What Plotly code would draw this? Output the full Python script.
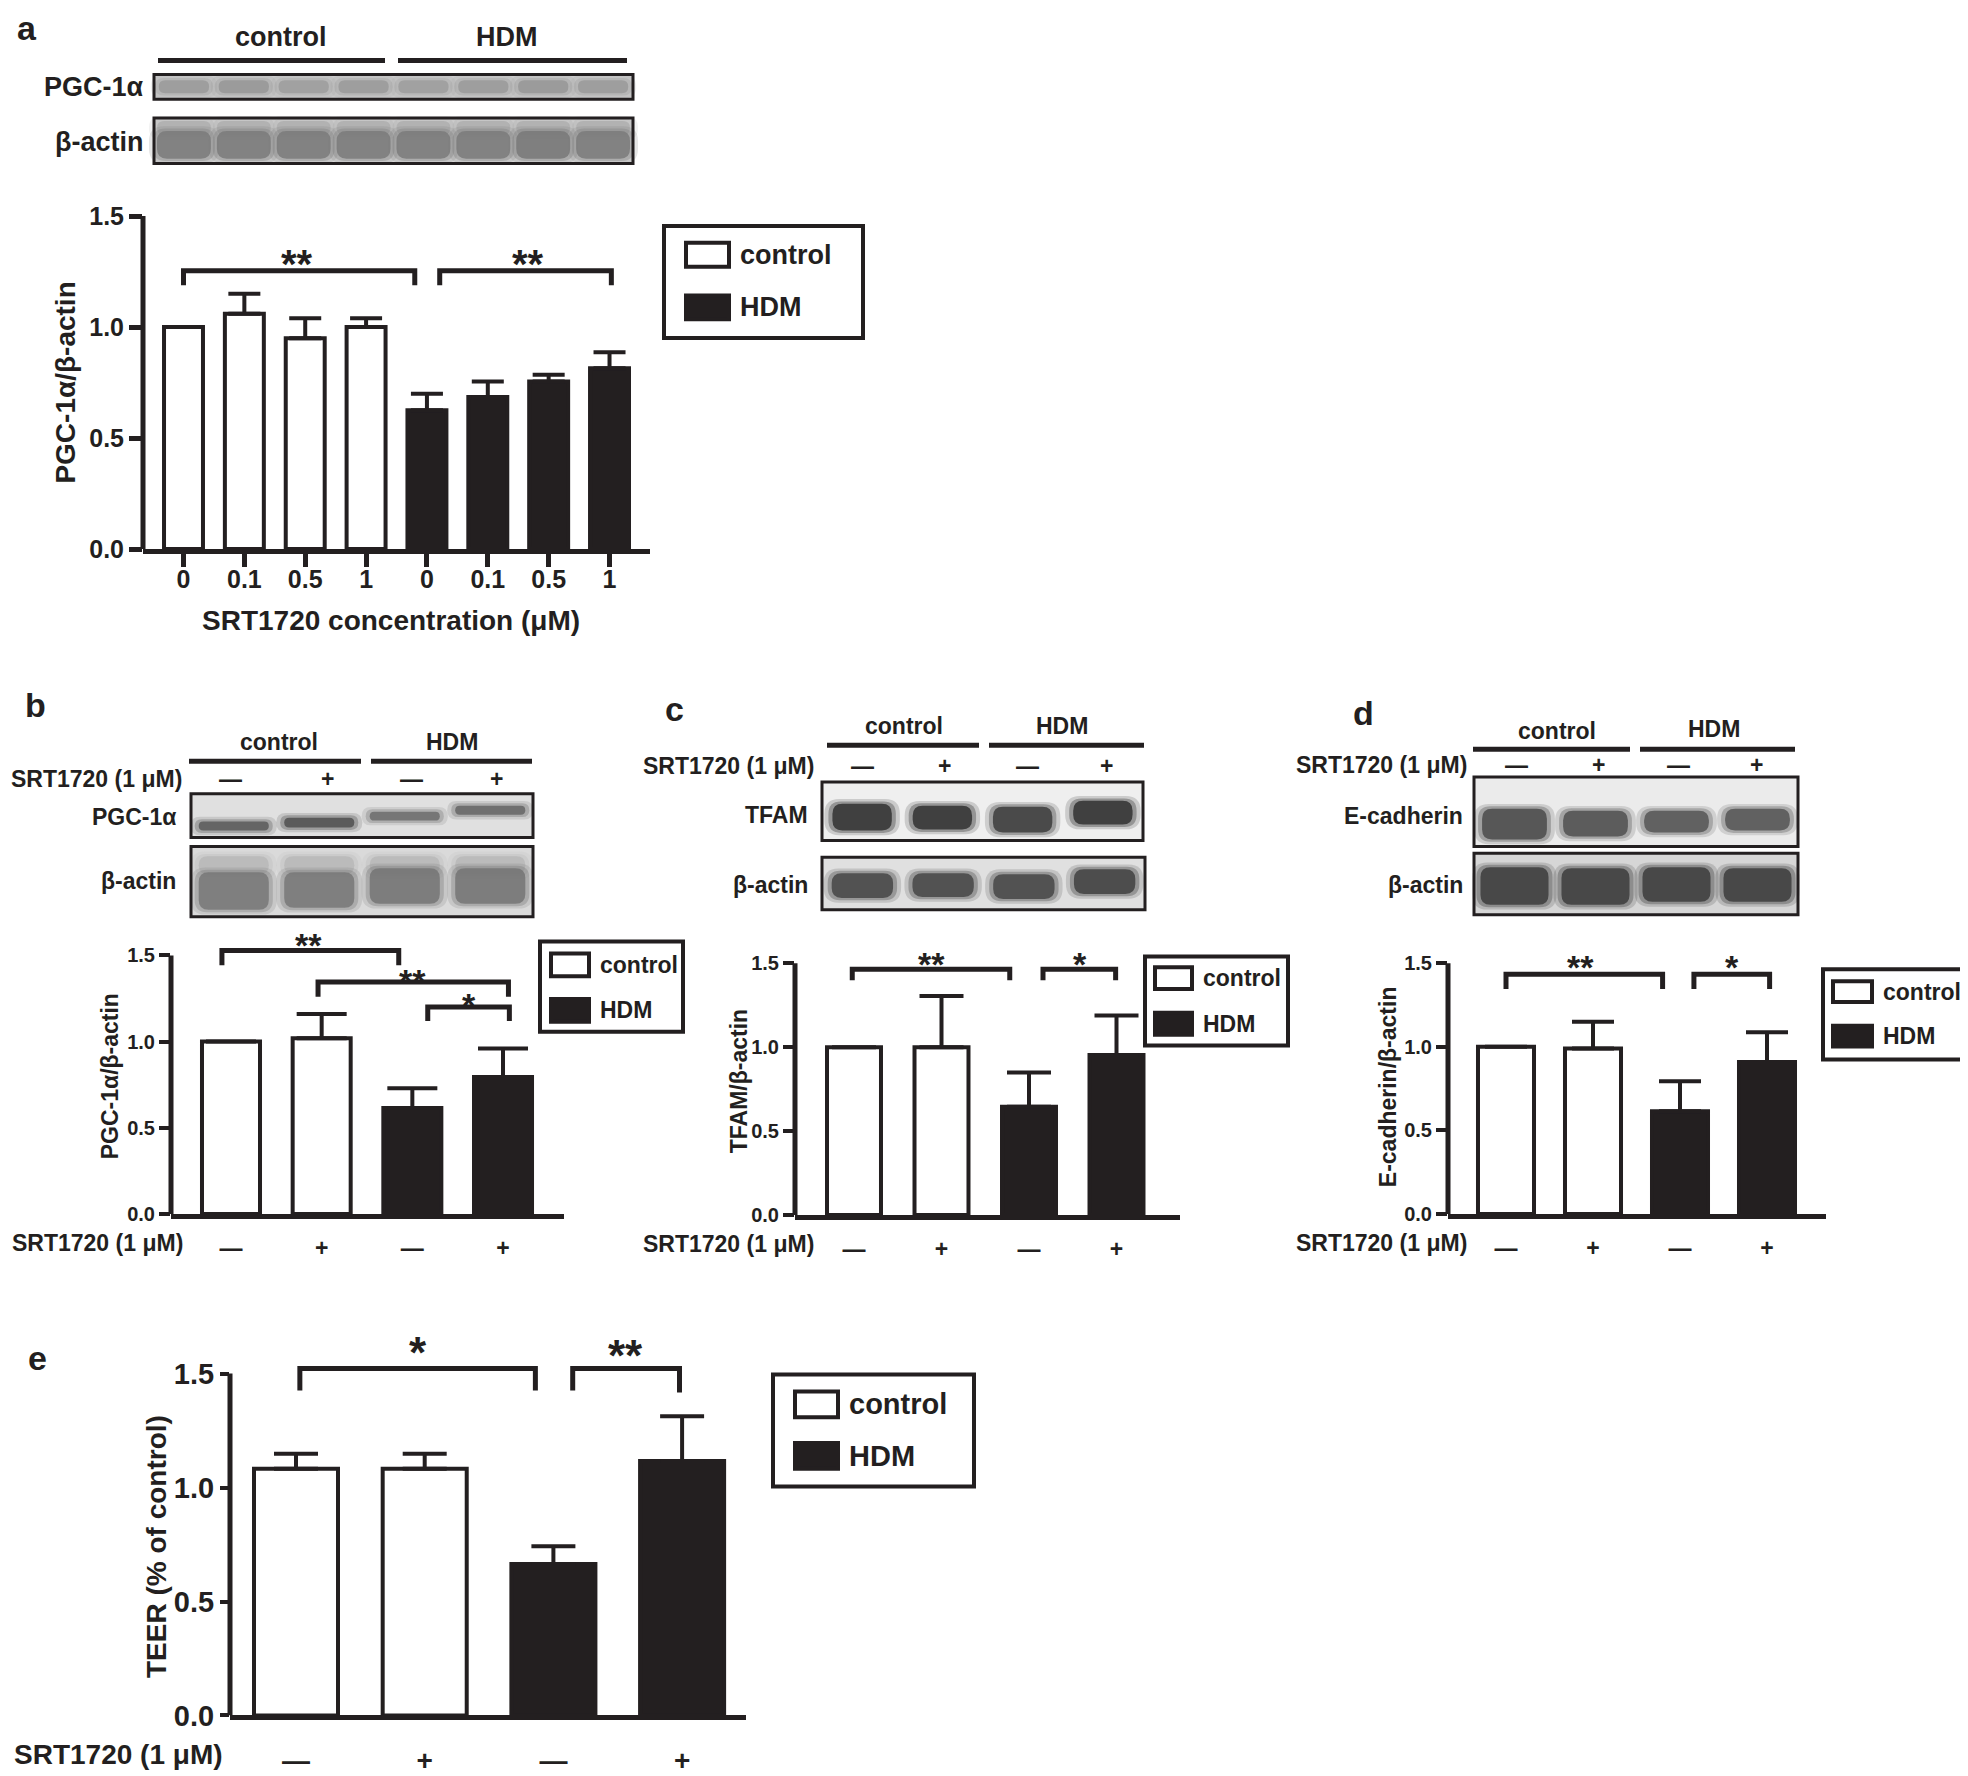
import plotly.graph_objects as go

W, H = 1968, 1776
INK = '#231f20'
FONT = 'Arial, "Liberation Sans", Helvetica, sans-serif'

# ------------------------------------------------------------------ data
A_DOSES = ['0', '0.1', '0.5', '1']
A_CONTROL = [1.0, 1.06, 0.95, 1.0]
A_CONTROL_ERR = [None, 0.09, 0.09, 0.04]
A_HDM = [0.625, 0.685, 0.755, 0.815]
A_HDM_ERR = [0.075, 0.07, 0.03, 0.072]

SRT_SIGNS = ['—', '+']  # SRT1720 (1 µM) absent / present

B_CONTROL = [1.0, 1.02]
B_CONTROL_ERR = [None, 0.14]
B_HDM = [0.615, 0.795]
B_HDM_ERR = [0.115, 0.165]

C_CONTROL = [1.0, 1.0]
C_CONTROL_ERR = [None, 0.305]
C_HDM = [0.645, 0.954]
C_HDM_ERR = [0.205, 0.236]

D_CONTROL = [1.0, 0.99]
D_CONTROL_ERR = [None, 0.16]
D_HDM = [0.615, 0.91]
D_HDM_ERR = [0.18, 0.178]

E_CONTROL = [1.083, 1.083]
E_CONTROL_ERR = [0.065, 0.065]
E_HDM = [0.665, 1.117]
E_HDM_ERR = [0.078, 0.196]

Y_TICKS = [0.0, 0.5, 1.0, 1.5]
Y_TICK_TEXT = ['0.0', '0.5', '1.0', '1.5']

# significance brackets:
# (from bar, to bar, top, left leg end, right leg end, label, label x, label y)
A_BRACKETS = [(0.0, 3.8, 1.254, 1.188, 1.188, '**', 1.87, 1.32),
              (4.21, 7.03, 1.254, 1.188, 1.188, '**', 5.66, 1.32)]
B_BRACKETS = [(-0.1, 1.85, 1.529, 1.443, 1.443, '**', 0.86, 1.60),
              (0.96, 3.06, 1.345, 1.26, 1.26, '**', 2.0, 1.393),
              (2.17, 3.07, 1.20, 1.12, 1.12, '*', 2.63, 1.249)]
C_BRACKETS = [(-0.02, 1.78, 1.465, 1.40, 1.40, '**', 0.89, 1.535),
              (2.16, 2.99, 1.465, 1.40, 1.40, '*', 2.58, 1.535)]
D_BRACKETS = [(0.0, 1.8, 1.434, 1.346, 1.346, '**', 0.86, 1.52),
              (2.16, 3.03, 1.434, 1.346, 1.346, '*', 2.6, 1.52)]
E_BRACKETS = [(0.03, 1.86, 1.522, 1.426, 1.426, '*', 0.95, 1.63),
              (2.15, 2.98, 1.522, 1.426, 1.417, '**', 2.56, 1.62)]

# relative band densities of the western blots (lanes left to right)
A_PGC_DENSITY = [0.55, 0.6, 0.5, 0.55, 0.5, 0.55, 0.6, 0.55]
A_ACTIN_DENSITY = [0.85, 0.85, 0.85, 0.85, 0.85, 0.85, 0.9, 0.85]
B_PGC_DENSITY = [0.75, 0.85, 0.6, 0.65]
B_ACTIN_DENSITY = [0.8, 0.8, 0.85, 0.85]
C_TFAM_DENSITY = [0.9, 0.9, 0.8, 0.9]
C_ACTIN_DENSITY = [0.85, 0.85, 0.85, 0.9]
D_ECAD_DENSITY = [0.85, 0.8, 0.75, 0.75]
D_ACTIN_DENSITY = [0.85, 0.85, 0.85, 0.85]

# ------------------------------------------------------------------ helpers
def fx(x):
    return x / W


def fy(y):
    return 1 - y / H


shapes = []
annotations = []


def text(x, y, s, size, xanchor='center', yanchor='middle', angle=0):
    annotations.append(dict(x=fx(x), y=fy(y), xref='paper', yref='paper', text=s,
                            showarrow=False, xanchor=xanchor, yanchor=yanchor,
                            textangle=angle,
                            font=dict(size=size, family=FONT, color=INK, weight='bold')))


def pline(x0, y0, x1, y1, width):
    shapes.append(dict(type='line', xref='paper', yref='paper', x0=fx(x0), y0=fy(y0),
                       x1=fx(x1), y1=fy(y1), line=dict(color=INK, width=width)))


def prect(x0, y0, x1, y1, fill, lw, lc=INK):
    shapes.append(dict(type='rect', xref='paper', yref='paper', x0=fx(x0), y0=fy(y0),
                       x1=fx(x1), y1=fy(y1), fillcolor=fill,
                       line=dict(color=lc, width=lw)))


def rr_path(x0, y0, x1, y1, r):
    def P(x, y):
        return f"{fx(x):.6f},{fy(y):.6f}"
    return (f"M {P(x0 + r, y0)} L {P(x1 - r, y0)} Q {P(x1, y0)} {P(x1, y0 + r)} "
            f"L {P(x1, y1 - r)} Q {P(x1, y1)} {P(x1 - r, y1)} L {P(x0 + r, y1)} "
            f"Q {P(x0, y1)} {P(x0, y1 - r)} L {P(x0, y0 + r)} Q {P(x0, y0)} {P(x0 + r, y0)} Z")


def band(cx, y0, y1, w, color, dens):
    h = y1 - y0
    for grow, f in ((8, 0.22), (4, 0.4), (0, 1.0)):
        r = min(h / 2, 10) + grow * 0.6
        shapes.append(dict(type='path', xref='paper', yref='paper',
                           path=rr_path(cx - w / 2 - grow, y0 - grow * 0.6,
                                        cx + w / 2 + grow, y1 + grow * 0.6, r),
                           fillcolor=color, opacity=dens * f, line=dict(width=0)))


def blot(box, bg, color, densities, bands_y, wfrac, halo=None):
    x0, y0, x1, y1 = box
    prect(x0, y0, x1, y1, bg, 0)
    n = len(densities)
    lane = (x1 - x0) / n
    for i, d in enumerate(densities):
        cx = x0 + lane * (i + 0.5)
        by0, by1 = bands_y[i]
        if halo:
            hy0, hy1, hc = halo
            band(cx, hy0, hy1, lane * wfrac, hc, 0.7)
        band(cx, by0, by1, lane * wfrac, color, d)
    prect(x0, y0, x1, y1, 'rgba(0,0,0,0)', 3)


def legend(box, sq, gap, size):
    x0, y0, x1, y1 = box
    prect(x0, y0, x1, y1, 'rgba(0,0,0,0)', 4)
    sx0, sy0, sx1, sy1 = sq
    prect(sx0, sy0, sx1, sy1, 'white', 4)
    prect(sx0, sy0 + gap, sx1, sy1 + gap, INK, 4)
    text(sx1 + 9, (sy0 + sy1) / 2, 'control', size, xanchor='left')
    text(sx1 + 9, (sy0 + sy1) / 2 + gap, 'HDM', size, xanchor='left')


# ------------------------------------------------------------------ figure
fig = go.Figure()

YTOP = 1.7
PANELS = [
    dict(n='', left=135, right=642, base=546, unit=224, c0=175.5, s=60.86, bw=0.64, cap=16,
         yf=25, xf=25, tl=13, tw=5, xtl=13, xticks=True, starf=40, xstand=-9),
    dict(n='2', left=163, right=556, base=1217, unit=174, c0=223, s=90.67, bw=0.64, cap=25,
         yf=20, xf=23, tl=11, tw=4, xtl=9, xticks=False, starf=34, xstand=0),
    dict(n='3', left=787, right=1172, base=1218, unit=169.3, c0=846, s=87.5, bw=0.617, cap=22,
         yf=20, xf=23, tl=11, tw=4, xtl=9, xticks=False, starf=34, xstand=0),
    dict(n='4', left=1440, right=1818, base=1217, unit=168.7, c0=1498, s=87, bw=0.644, cap=21,
         yf=20, xf=23, tl=11, tw=4, xtl=9, xticks=False, starf=34, xstand=0),
    dict(n='5', left=222, right=738, base=1723, unit=230, c0=288, s=128.7, bw=0.653, cap=22,
         yf=29, xf=28, tl=9, tw=4, xtl=16, xticks=False, starf=44, xstand=0),
]

DATA = [
    (A_CONTROL, A_CONTROL_ERR, A_HDM, A_HDM_ERR, A_DOSES + A_DOSES, A_BRACKETS),
    (B_CONTROL, B_CONTROL_ERR, B_HDM, B_HDM_ERR, SRT_SIGNS + SRT_SIGNS, B_BRACKETS),
    (C_CONTROL, C_CONTROL_ERR, C_HDM, C_HDM_ERR, SRT_SIGNS + SRT_SIGNS, C_BRACKETS),
    (D_CONTROL, D_CONTROL_ERR, D_HDM, D_HDM_ERR, SRT_SIGNS + SRT_SIGNS, D_BRACKETS),
    (E_CONTROL, E_CONTROL_ERR, E_HDM, E_HDM_ERR, SRT_SIGNS + SRT_SIGNS, E_BRACKETS),
]

layout_axes = {}
for p, (ctl, ctl_e, hdm, hdm_e, xlabels, brackets) in zip(PANELS, DATA):
    xa, ya = 'x' + p['n'], 'y' + p['n']
    nctl = len(ctl)
    xs_c = list(range(nctl))
    xs_h = list(range(nctl, nctl + len(hdm)))
    for xs, vals, errs, fill in ((xs_c, ctl, ctl_e, 'white'), (xs_h, hdm, hdm_e, INK)):
        fig.add_trace(go.Bar(
            x=xs, y=vals, width=p['bw'], xaxis=xa, yaxis=ya, showlegend=False,
            marker=dict(color=fill, line=dict(color=INK, width=4)),
            error_y=dict(type='data', symmetric=False, array=errs,
                         arrayminus=[0] * len(errs), color=INK, thickness=4,
                         width=p['cap']),
        ))
    top_px = p['base'] - YTOP * p['unit']
    xr = [(p['left'] - p['c0']) / p['s'], (p['right'] - p['c0']) / p['s']]
    key = p['n']
    layout_axes['xaxis' + key] = dict(
        domain=[fx(p['left']), fx(p['right'])], range=xr, anchor=ya,
        showline=True, linewidth=5, linecolor=INK, showgrid=False, zeroline=False,
        tickmode='array', tickvals=list(range(len(xlabels))), ticktext=xlabels,
        ticks='outside', ticklen=p['xtl'], tickwidth=5,
        tickcolor=INK if p['xticks'] else 'rgba(0,0,0,0)',
        ticklabelstandoff=p['xstand'],
        tickfont=dict(size=p['xf'], family=FONT, color=INK, weight='bold'),
        fixedrange=True)
    layout_axes['yaxis' + key] = dict(
        domain=[fy(p['base']), fy(top_px)], range=[0, YTOP], anchor=xa,
        showline=False, showgrid=False, zeroline=False,
        tickmode='array', tickvals=Y_TICKS, ticktext=Y_TICK_TEXT,
        ticks='outside', ticklen=p['tl'], tickwidth=p['tw'], tickcolor=INK,
        tickfont=dict(size=p['yf'], family=FONT, color=INK, weight='bold'),
        fixedrange=True)
    # y axis line (stops at 1.5)
    shapes.append(dict(type='line', xref=xa + ' domain', yref=ya, x0=0, x1=0, y0=0, y1=1.5,
                       line=dict(color=INK, width=5)))
    # significance brackets
    for (b0, b1, yt, yl, yr, lab, lx, ly) in brackets:
        shapes.append(dict(type='path', xref=xa, yref=ya,
                           path=f"M {b0},{yl} L {b0},{yt} L {b1},{yt} L {b1},{yr}",
                           line=dict(color=INK, width=5)))
        annotations.append(dict(x=lx, y=ly, xref=xa, yref=ya, text=lab, showarrow=False,
                                xanchor='center', yanchor='middle',
                                yshift=-0.2 * p['starf'],
                                font=dict(size=p['starf'], family=FONT, color=INK,
                                          weight='bold')))

# ------------------------------------------------------------------ panel a extras
text(19, 20, 'a', 34)
text(273, 29, 'control', 27)
text(499, 29, 'HDM', 27)
pline(150, 53, 377, 53, 5)
pline(390, 53, 619, 53, 5)
text(138, 80, 'PGC-1α', 27, xanchor='right')
text(138, 135, 'β-actin', 27, xanchor='right')
blot((146, 67, 625, 92), '#cbcbcb', '#8a8a8a', A_PGC_DENSITY,
     [(73, 86)] * 8, 0.84)
blot((146, 111, 625, 157), '#d8d8d8', '#7a7a7a', A_ACTIN_DENSITY,
     [(124, 152)] * 8, 0.9, halo=(114, 128, '#a9a9a9'))
text(58, 378, 'PGC-1α/β-actin', 28, angle=-90)
text(383, 618, 'SRT1720 concentration (μM)', 28)
legend((656, 220, 855, 333), (678, 237, 721, 261), 53, 27)

# ------------------------------------------------------------------ panel b extras
text(27, 703, 'b', 34)
text(271, 741, 'control', 23)
text(444, 741, 'HDM', 23)
pline(181, 760, 353, 760, 5)
pline(363, 760, 524, 760, 5)
text(176, 778, 'SRT1720 (1 μM)', 23, xanchor='right')
for xx, s in zip((222, 319, 403, 488), SRT_SIGNS + SRT_SIGNS):
    text(xx, 778, s, 23)
text(170, 816, 'PGC-1α', 23, xanchor='right')
text(170, 881, 'β-actin', 23, xanchor='right')
blot((183, 793, 525, 837), '#e0e0e0', '#505050', B_PGC_DENSITY,
     [(821, 830), (817, 827), (811, 820), (805, 814)], 0.82)
blot((183, 846, 525, 917), '#dadada', '#747474', B_ACTIN_DENSITY,
     [(872, 910), (872, 908), (868, 904), (868, 904)], 0.82, halo=(856, 874, '#b4b4b4'))
text(102, 1078, 'PGC-1α/β-actin', 23, angle=-90)
text(177, 1246, 'SRT1720 (1 μM)', 23, xanchor='right')
legend((532, 942, 675, 1033), (543, 954, 581, 977), 46, 23)

# ------------------------------------------------------------------ panel c extras
text(666, 707, 'c', 34)
text(896, 725, 'control', 23)
text(1054, 725, 'HDM', 23)
pline(819, 744, 971, 744, 5)
pline(981, 744, 1136, 744, 5)
text(808, 765, 'SRT1720 (1 μM)', 23, xanchor='right')
for xx, s in zip((854, 936, 1019, 1098), SRT_SIGNS + SRT_SIGNS):
    text(xx, 765, s, 23)
text(802, 814, 'TFAM', 23, xanchor='right')
text(802, 885, 'β-actin', 23, xanchor='right')
blot((814, 781, 1135, 840), '#efefef', '#363636', C_TFAM_DENSITY,
     [(803, 830), (805, 829), (806, 832), (800, 824)], 0.74)
blot((814, 857, 1137, 910), '#e0e0e0', '#454545', C_ACTIN_DENSITY,
     [(873, 898), (873, 897), (874, 899), (869, 894)], 0.76)
text(731, 1083, 'TFAM/β-actin', 23, angle=-90)
text(808, 1247, 'SRT1720 (1 μM)', 23, xanchor='right')
legend((1137, 957, 1280, 1047), (1147, 968, 1184, 990), 46, 23)

# ------------------------------------------------------------------ panel d extras
text(1355, 711, 'd', 34)
text(1549, 730, 'control', 23)
text(1706, 728, 'HDM', 23)
pline(1465, 748, 1622, 748, 5)
pline(1632, 748, 1787, 748, 5)
text(1461, 764, 'SRT1720 (1 μM)', 23, xanchor='right')
for xx, s in zip((1508, 1590, 1670, 1748), SRT_SIGNS + SRT_SIGNS):
    text(xx, 764, s, 23)
text(1457, 815, 'E-cadherin', 23, xanchor='right')
text(1457, 885, 'β-actin', 23, xanchor='right')
blot((1466, 776, 1790, 846), '#ebebeb', '#4a4a4a', D_ECAD_DENSITY,
     [(808, 839), (810, 836), (810, 832), (808, 830)], 0.8)
blot((1466, 853, 1790, 915), '#d6d6d6', '#3c3c3c', D_ACTIN_DENSITY,
     [(867, 905), (868, 905), (867, 902), (868, 902)], 0.84)
text(1380, 1089, 'E-cadherin/β-actin', 23, angle=-90)
text(1461, 1246, 'SRT1720 (1 μM)', 23, xanchor='right')
legend((1815, 970, 1962, 1061), (1825, 982, 1864, 1003), 45, 23)

# ------------------------------------------------------------------ panel e extras
text(29, 1362, 'e', 34)
text(148, 1553, 'TEER (% of control)', 28, angle=-90)
text(217, 1762, 'SRT1720 (1 μM)', 28, xanchor='right')
legend((765, 1379, 966, 1492), (787, 1396, 830, 1422), 52, 29)

fig.update_layout(
    width=W, height=H, autosize=False,
    margin=dict(l=0, r=0, t=0, b=0, pad=0),
    paper_bgcolor='white', plot_bgcolor='rgba(0,0,0,0)',
    font=dict(family=FONT, color=INK, weight='bold'),
    barmode='overlay', showlegend=False,
    shapes=shapes, annotations=annotations,
    **layout_axes,
)

fig.write_html('out.html')
